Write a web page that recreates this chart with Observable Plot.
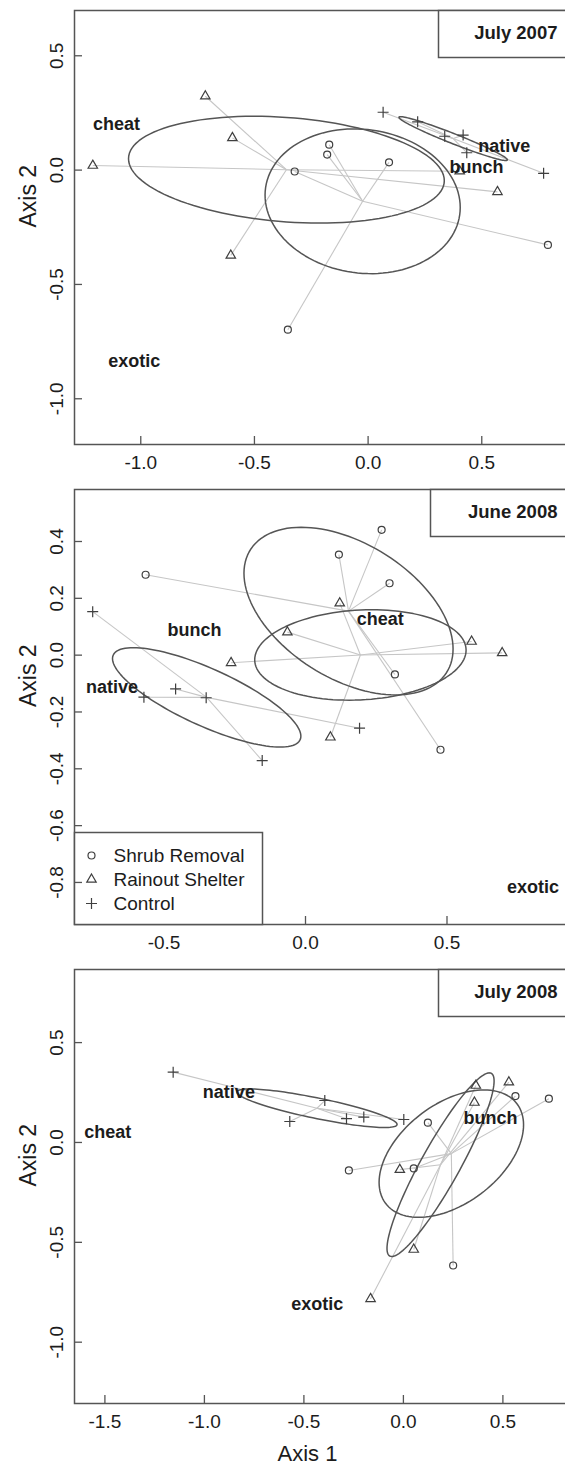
<!DOCTYPE html>
<html>
<head>
<meta charset="utf-8">
<script src="https://cdn.jsdelivr.net/npm/d3@7"></script>
<script src="https://cdn.jsdelivr.net/npm/@observablehq/plot@0.6"></script>
<style>
  body { margin: 0; background: #fff; }
  #chart { position: relative; width: 565px; height: 1466px; overflow: hidden; background: #fff; }
  #chart svg { position: absolute; left: 0; }
</style>
</head>
<body>
<div id="chart"></div>
<script>
// Treatments (legend order) and NMDS site scores per sampling date: [Axis 1, Axis 2]
const treatments = ["Shrub Removal", "Rainout Shelter", "Control"];

const july2007Shrub   = [[-0.171, 0.111], [-0.180, 0.068], [-0.323, -0.006], [0.092, 0.034], [0.791, -0.327], [-0.353, -0.698]];
const july2007Rainout = [[-0.716, 0.323], [-0.597, 0.141], [-1.211, 0.020], [0.569, -0.095], [0.403, -0.005], [-0.604, -0.373]];
const july2007Control = [[0.066, 0.253], [0.218, 0.211], [0.337, 0.148], [0.418, 0.153], [0.434, 0.076], [0.772, -0.014]];
const july2007Groups  = [["cheat", -1.107, 0.199], ["native", 0.599, 0.105], ["bunch", 0.477, 0.013], ["exotic", -1.029, -0.837]];

const june2008Shrub   = [[0.269, 0.441], [0.118, 0.354], [0.297, 0.253], [-0.565, 0.283], [0.316, -0.068], [0.477, -0.333]];
const june2008Rainout = [[0.121, 0.183], [-0.064, 0.081], [0.587, 0.048], [0.695, 0.008], [-0.263, -0.027], [0.088, -0.289]];
const june2008Control = [[-0.752, 0.153], [-0.459, -0.119], [-0.571, -0.148], [-0.351, -0.150], [0.191, -0.257], [-0.153, -0.371]];
const june2008Groups  = [["cheat", 0.264, 0.128], ["bunch", -0.392, 0.089], ["native", -0.684, -0.113], ["exotic", 0.804, -0.817]];

const july2008Shrub   = [[0.563, 0.232], [0.731, 0.219], [0.123, 0.099], [-0.274, -0.140], [0.052, -0.130], [0.250, -0.616]];
const july2008Rainout = [[0.364, 0.285], [0.530, 0.302], [0.357, 0.200], [-0.018, -0.136], [0.052, -0.536], [-0.165, -0.783]];
const july2008Control = [[-1.157, 0.352], [-0.395, 0.210], [-0.571, 0.105], [-0.286, 0.119], [-0.199, 0.127], [0.002, 0.115]];
const july2008Groups  = [["native", -0.877, 0.252], ["cheat", -1.486, 0.052], ["bunch", 0.438, 0.119], ["exotic", -0.433, -0.808]];

// Tick values
const ticks2007X = [-1.0, -0.5, 0.0, 0.5];
const ticks2007Y = [0.5, 0.0, -0.5, -1.0];
const ticksJune08X = [-0.5, 0.0, 0.5];
const ticksJune08Y = [0.4, 0.2, 0.0, -0.2, -0.4, -0.6, -0.8];
const ticksJuly08X = [-1.5, -1.0, -0.5, 0.0, 0.5];
const ticksJuly08Y = [0.5, 0.0, -0.5, -1.0];

const FONT = "'Liberation Sans', Arial, Helvetica, sans-serif";
const INK = "#1c1c1c";
const LINE = "#555555";
const SPIDER = "#c6c6c6";
const TICK = 8;

// Open "+" like R's pch 3
const plusSymbol = {
  draw(ctx, size) {
    const r = Math.sqrt(size / Math.PI);
    ctx.moveTo(-r, 0); ctx.lineTo(r, 0);
    ctx.moveTo(0, -r); ctx.lineTo(0, r);
  }
};
const symbolStyles = [
  {symbol: "circle", r: 3.5},
  {symbol: "triangle", r: 3.5},
  {symbol: plusSymbol, r: 5.5}
];

const fmt = (v) => v.toFixed(1);

// One-standard-deviation ellipse from a group's covariance (as ordiellipse kind = "sd")
function sdEllipse(pts, n = 120) {
  const m = pts.length;
  const cx = d3.mean(pts, (p) => p[0]);
  const cy = d3.mean(pts, (p) => p[1]);
  let sxx = 0, syy = 0, sxy = 0;
  for (const [x, y] of pts) {
    sxx += (x - cx) ** 2; syy += (y - cy) ** 2; sxy += (x - cx) * (y - cy);
  }
  sxx /= m - 1; syy /= m - 1; sxy /= m - 1;
  const a = Math.sqrt(sxx), b = sxy / a, c = Math.sqrt(Math.max(syy - b * b, 0));
  return d3.range(n + 1).map((i) => {
    const t = (2 * Math.PI * i) / n;
    return [cx + a * Math.cos(t), cy + b * Math.cos(t) + c * Math.sin(t)];
  });
}

const panels = [
  {
    title: "July 2007", boxWidth: 128,
    sets: [july2007Shrub, july2007Rainout, july2007Control], groups: july2007Groups,
    xDomain: [-1.2915, 0.8727], yDomain: [-1.200, 0.698],
    xTicks: ticks2007X, yTicks: ticks2007Y,
    top: 0, height: 480, marginTop: 10, marginBottom: 36
  },
  {
    title: "June 2008", boxWidth: 136,
    sets: [june2008Shrub, june2008Rainout, june2008Control], groups: june2008Groups,
    xDomain: [-0.8163, 0.9223], yDomain: [-0.948, 0.583],
    xTicks: ticksJune08X, yTicks: ticksJune08Y,
    top: 480, height: 480, marginTop: 9, marginBottom: 36, legend: true
  },
  {
    title: "July 2008", boxWidth: 128,
    sets: [july2008Shrub, july2008Rainout, july2008Control], groups: july2008Groups,
    xDomain: [-1.6528, 0.8196], yDomain: [-1.307, 0.866],
    xTicks: ticksJuly08X, yTicks: ticksJuly08Y,
    top: 960, height: 506, marginTop: 9, marginBottom: 63, xTitle: true
  }
];

const WIDTH = 565, MARGIN_LEFT = 74, MARGIN_RIGHT = -1;

function drawPanel(p) {
  const plotW = WIDTH - MARGIN_LEFT - MARGIN_RIGHT;
  const plotH = p.height - p.marginTop - p.marginBottom;

  const points = p.sets.flatMap((set, g) => set.map(([x, y]) => ({x, y, g})));
  const centroids = p.sets.map((set) => [d3.mean(set, (d) => d[0]), d3.mean(set, (d) => d[1])]);
  const spiders = points.map((d) => ({x1: centroids[d.g][0], y1: centroids[d.g][1], x2: d.x, y2: d.y}));
  const ellipses = p.sets.flatMap((set, g) => sdEllipse(set).map(([x, y]) => ({x, y, g})));

  const marks = [
    Plot.link(spiders, {x1: "x1", y1: "y1", x2: "x2", y2: "y2", stroke: SPIDER, strokeWidth: 1.1}),
    Plot.line(ellipses, {x: "x", y: "y", z: "g", stroke: LINE, strokeWidth: 1.5}),
    ...symbolStyles.map((s, g) =>
      Plot.dot(points.filter((d) => d.g === g), {
        x: "x", y: "y", symbol: s.symbol, r: s.r, fill: "none", stroke: "#3f3f3f", strokeWidth: 1.2
      })
    ),
    Plot.text(p.groups, {
      x: (d) => d[1], y: (d) => d[2], text: (d) => d[0],
      fontSize: 18, fontWeight: "bold", fill: INK, lineAnchor: "middle"
    }),
    // inward tick marks on the bottom and left sides
    Plot.tickX(p.xTicks, {x: (d) => d, insetTop: plotH - TICK, stroke: LINE, strokeWidth: 1.3}),
    Plot.tickY(p.yTicks, {y: (d) => d, insetRight: plotW - TICK, stroke: LINE, strokeWidth: 1.3}),
    Plot.axisX(p.xTicks, {anchor: "bottom", tickSize: 0, tickPadding: 11, tickFormat: fmt, fontSize: 19, fill: INK}),
    Plot.axisY(p.yTicks, {
      anchor: "left", tickSize: 0, tickPadding: 18, tickRotate: -90,
      textAnchor: "middle", lineAnchor: "middle", tickFormat: fmt, fontSize: 19, fill: INK
    }),
    Plot.text(["Axis 2"], {frameAnchor: "left", dx: -46, rotate: -90, fontSize: 23, fill: INK, lineAnchor: "middle"}),
    Plot.frame({stroke: LINE, strokeWidth: 1.5}),
    // date box in the top-right corner
    Plot.frame({stroke: LINE, strokeWidth: 1.5, fill: "white", insetLeft: plotW - p.boxWidth, insetBottom: plotH - 47}),
    Plot.text([p.title], {frameAnchor: "top-right", dx: -9, dy: 23, textAnchor: "end", lineAnchor: "middle",
      fontSize: 18.5, fontWeight: "bold", fill: INK})
  ];

  if (p.legend) {
    const rowTop = plotH - 69, rowStep = 24;
    marks.push(Plot.frame({stroke: LINE, strokeWidth: 1.5, fill: "white", insetRight: plotW - 188, insetTop: plotH - 92}));
    marks.push(Plot.tickY(p.yTicks.filter((v) => v <= -0.7), {y: (d) => d, insetRight: plotW - TICK, stroke: LINE, strokeWidth: 1.3}));
    treatments.forEach((t, i) => {
      marks.push(Plot.dot([t], {frameAnchor: "top-left", dx: 17, dy: rowTop + i * rowStep,
        symbol: symbolStyles[i].symbol, r: symbolStyles[i].r, fill: "none", stroke: "#3f3f3f", strokeWidth: 1.2}));
      marks.push(Plot.text([t], {frameAnchor: "top-left", dx: 39, dy: rowTop + i * rowStep,
        textAnchor: "start", lineAnchor: "middle", fontSize: 19, fill: INK}));
    });
  }

  if (p.xTitle) {
    marks.push(Plot.text(["Axis 1"], {frameAnchor: "bottom", dx: -13, dy: 50, fontSize: 22, fill: INK, lineAnchor: "middle"}));
  }

  const svg = Plot.plot({
    width: WIDTH, height: p.height,
    marginLeft: MARGIN_LEFT, marginRight: MARGIN_RIGHT,
    marginTop: p.marginTop, marginBottom: p.marginBottom,
    style: {fontFamily: FONT, background: "transparent", overflow: "visible"},
    x: {domain: p.xDomain, axis: null},
    y: {domain: p.yDomain, axis: null},
    marks
  });
  svg.style.top = p.top + "px";
  return svg;
}

const chart = document.getElementById("chart");
for (const p of panels) chart.appendChild(drawPanel(p));
</script>
</body>
</html>
